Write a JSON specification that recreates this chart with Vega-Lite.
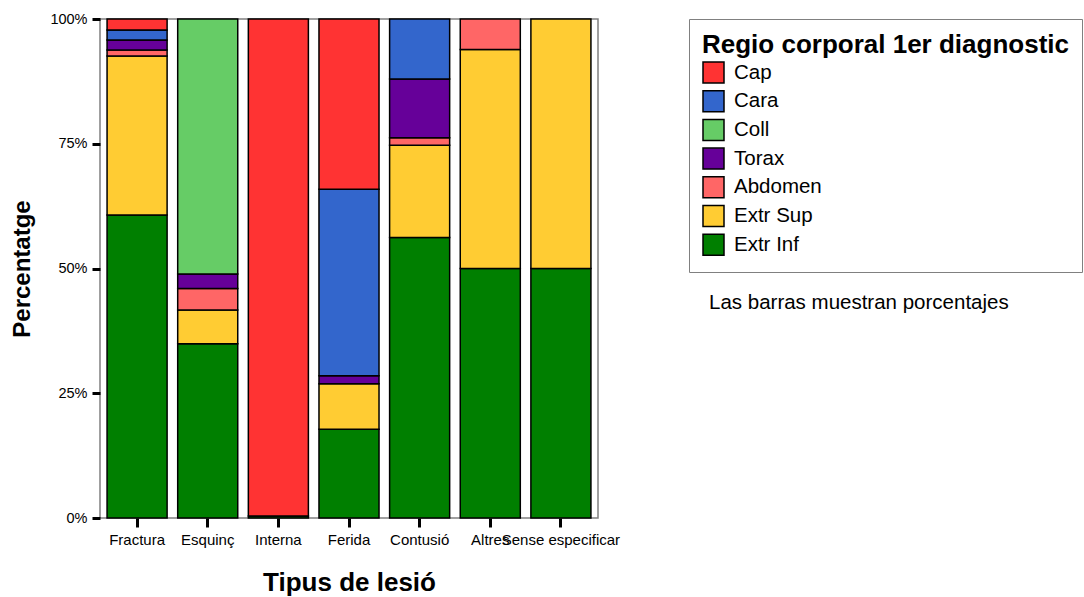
{
  "$schema": "https://vega.github.io/schema/vega-lite/v6.json",
  "width": 498,
  "height": 499,
  "autosize": {"type": "none"},
  "padding": {"left": 100, "top": 19, "right": 486, "bottom": 79},
  "background": "white",
  "title": {
    "text": "Las barras muestran porcentajes",
    "orient": "top",
    "anchor": "start",
    "frame": "group",
    "dx": 609,
    "dy": 302,
    "offset": 0,
    "baseline": "top",
    "fontSize": 20.5,
    "fontWeight": "normal",
    "font": "Liberation Sans",
    "color": "black"
  },
  "data": {
    "values": [
      {"tipus": "Fractura", "regio": "Extr Inf", "k": 1, "pct": 60.7},
      {"tipus": "Fractura", "regio": "Extr Sup", "k": 2, "pct": 31.9},
      {"tipus": "Fractura", "regio": "Abdomen", "k": 3, "pct": 1.2},
      {"tipus": "Fractura", "regio": "Torax", "k": 4, "pct": 2.0},
      {"tipus": "Fractura", "regio": "Cara", "k": 6, "pct": 2.0},
      {"tipus": "Fractura", "regio": "Cap", "k": 7, "pct": 2.2},
      {"tipus": "Esquinç", "regio": "Extr Inf", "k": 1, "pct": 34.9},
      {"tipus": "Esquinç", "regio": "Extr Sup", "k": 2, "pct": 6.8},
      {"tipus": "Esquinç", "regio": "Abdomen", "k": 3, "pct": 4.3},
      {"tipus": "Esquinç", "regio": "Torax", "k": 4, "pct": 2.9},
      {"tipus": "Esquinç", "regio": "Coll", "k": 5, "pct": 51.1},
      {"tipus": "Interna", "regio": "Extr Inf", "k": 1, "pct": 0.4},
      {"tipus": "Interna", "regio": "Cap", "k": 7, "pct": 99.6},
      {"tipus": "Ferida", "regio": "Extr Inf", "k": 1, "pct": 17.8},
      {"tipus": "Ferida", "regio": "Extr Sup", "k": 2, "pct": 9.1},
      {"tipus": "Ferida", "regio": "Torax", "k": 4, "pct": 1.6},
      {"tipus": "Ferida", "regio": "Cara", "k": 6, "pct": 37.4},
      {"tipus": "Ferida", "regio": "Cap", "k": 7, "pct": 34.1},
      {"tipus": "Contusió", "regio": "Extr Inf", "k": 1, "pct": 56.2},
      {"tipus": "Contusió", "regio": "Extr Sup", "k": 2, "pct": 18.5},
      {"tipus": "Contusió", "regio": "Abdomen", "k": 3, "pct": 1.5},
      {"tipus": "Contusió", "regio": "Torax", "k": 4, "pct": 11.8},
      {"tipus": "Contusió", "regio": "Cara", "k": 6, "pct": 12.0},
      {"tipus": "Altres", "regio": "Extr Inf", "k": 1, "pct": 50.0},
      {"tipus": "Altres", "regio": "Extr Sup", "k": 2, "pct": 43.9},
      {"tipus": "Altres", "regio": "Abdomen", "k": 3, "pct": 6.1},
      {"tipus": "Sense especificar", "regio": "Extr Inf", "k": 1, "pct": 50.0},
      {"tipus": "Sense especificar", "regio": "Extr Sup", "k": 2, "pct": 50.0}
    ]
  },
  "mark": {"type": "bar", "stroke": "black", "strokeWidth": 1.5},
  "encoding": {
    "x": {
      "field": "tipus",
      "type": "nominal",
      "sort": ["Fractura", "Esquinç", "Interna", "Ferida", "Contusió", "Altres", "Sense especificar"],
      "scale": {"paddingInner": 0.15, "paddingOuter": 0.1},
      "axis": {
        "title": "Tipus de lesió",
        "titleFontSize": 26,
        "titleFontWeight": "bold",
        "titleColor": "black",
        "titlePadding": 22,
        "labelAngle": 0,
        "labelFontSize": 15,
        "labelColor": "black",
        "labelPadding": 5,
        "labelOverlap": false,
        "labelLimit": 300,
        "domain": false,
        "ticks": true,
        "tickSize": 9,
        "tickWidth": 3,
        "tickColor": "black",
        "grid": false
      }
    },
    "y": {
      "field": "pct",
      "type": "quantitative",
      "stack": "normalize",
      "scale": {"domain": [0, 1]},
      "axis": {
        "title": "Percentatge",
        "titleFontSize": 24,
        "titleFontWeight": "bold",
        "titleColor": "black",
        "titlePadding": 15,
        "format": ".0%",
        "values": [0, 0.25, 0.5, 0.75, 1],
        "labelFontSize": 14.5,
        "labelColor": "black",
        "labelPadding": 5,
        "domain": false,
        "tickSize": 8,
        "tickWidth": 3,
        "tickColor": "black",
        "grid": false
      }
    },
    "color": {
      "field": "regio",
      "type": "nominal",
      "scale": {
        "domain": ["Cap", "Cara", "Coll", "Torax", "Abdomen", "Extr Sup", "Extr Inf"],
        "range": ["#FF3333", "#3366CC", "#66CC66", "#660099", "#FF6666", "#FFCC33", "#007F00"]
      },
      "legend": {
        "orient": "none",
        "legendX": 589,
        "legendY": 0,
        "title": "Regio corporal 1er diagnostic",
        "titleFontSize": 26,
        "titleFontWeight": "bold",
        "titleColor": "black",
        "titleLimit": 600,
        "titlePadding": 3,
        "labelFontSize": 20.5,
        "labelColor": "black",
        "labelOffset": 9,
        "labelLimit": 400,
        "symbolType": "square",
        "symbolSize": 441,
        "symbolStrokeColor": "black",
        "symbolStrokeWidth": 1.5,
        "symbolOpacity": 1,
        "strokeColor": "#808080",
        "fillColor": "white",
        "padding": 13,
        "rowPadding": 1.7
      }
    },
    "order": {"field": "k", "type": "quantitative"}
  },
  "config": {
    "view": {"stroke": "#808080", "strokeWidth": 1.5},
    "font": "Liberation Sans"
  }
}
